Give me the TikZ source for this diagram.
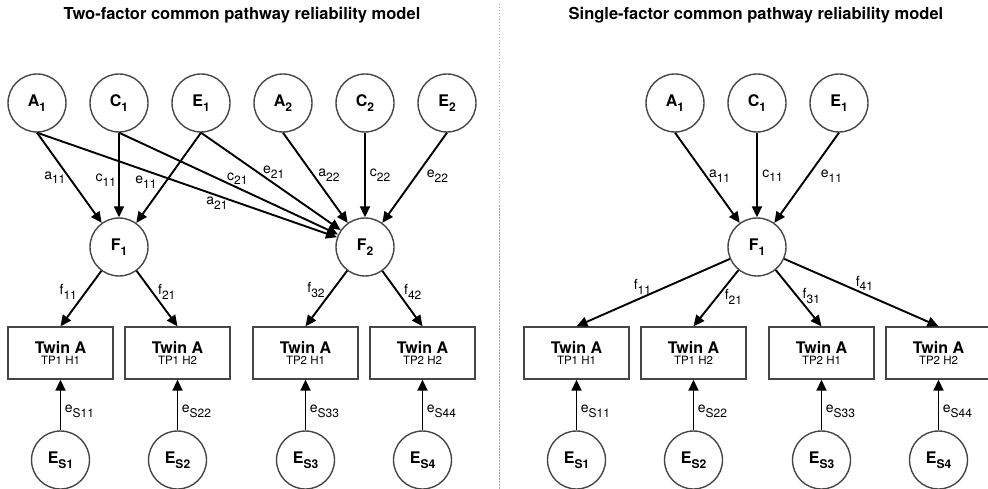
\documentclass[tikz,border=0pt]{standalone}
\usepackage{fontspec}
\setmainfont{TeX Gyre Heros}
\usetikzlibrary{arrows.meta, positioning}
\definecolor{lineg}{RGB}{70,70,70}
\definecolor{sepg}{RGB}{165,165,165}
\newcommand{\lsub}[1]{\raisebox{-4.5pt}{\fontsize{12}{12}\selectfont #1}}
\newcommand{\twin}[1]{{\fontsize{16}{17}\selectfont\bfseries Twin A}\\[-1.5pt]{\fontsize{11.5}{13}\selectfont #1}}

\begin{document}
\begin{tikzpicture}[x=1pt, y=-1pt,
    lat/.style={circle, draw=lineg, line width=1.4pt, minimum size=58pt,
      inner sep=0pt, font=\fontsize{16}{18}\selectfont\bfseries},
    box/.style={rectangle, draw=lineg, line width=1.4pt, minimum width=105pt,
      minimum height=52pt, inner sep=0pt, align=center},
    arr/.style={-{Triangle[length=11pt, width=10pt]}, black, line width=1.9pt},
    lbl/.style={font=\fontsize{14}{15}\selectfont, inner sep=2pt},
    ttl/.style={font=\fontsize{16.5}{18}\selectfont\bfseries}]
  \useasboundingbox (0,0) rectangle (988,489);
  \node[ttl] (t1) at (242,15) {Two-factor common pathway reliability model};
  \node[ttl] (t2) at (756,15) {Single-factor common pathway reliability model};
  \coordinate (divtop) at (499,4);
  \coordinate (divbot) at (499,489);
  \draw[sepg, line width=1pt, dash pattern=on 1.5pt off 1.5pt] (divtop) -- (divbot);
  \node[lat] (A1) at (37,103) {A\lsub{1}};
  \node[lat, right=22.6pt of A1] (C1) {C\lsub{1}};
  \node[lat, right=22.6pt of C1] (E1) {E\lsub{1}};
  \node[lat, right=22.6pt of E1] (A2) {A\lsub{2}};
  \node[lat, right=22.6pt of A2] (C2) {C\lsub{2}};
  \node[lat, right=22.6pt of C2] (E2) {E\lsub{2}};
  \node[lat, below=84.6pt of C1] (F1) {F\lsub{1}};
  \node[lat, below=84.6pt of C2] (F2) {F\lsub{2}};
  \node[box] (b1) at (60.5,353) {\twin{TP1 H1}};
  \node[box, right=10.6pt of b1] (b2) {\twin{TP1 H2}};
  \node[box, right=21.6pt of b2] (b3) {\twin{TP2 H1}};
  \node[box, right=10.6pt of b3] (b4) {\twin{TP2 H2}};
  \node[lat, below=50.6pt of b1] (es1) {E\lsub{S1}};
  \node[lat, below=50.6pt of b2] (es2) {E\lsub{S2}};
  \node[lat, below=50.6pt of b3] (es3) {E\lsub{S3}};
  \node[lat, below=50.6pt of b4] (es4) {E\lsub{S4}};
  \draw[arr] (A1.south) -- (F1) node[lbl, pos=.5, left=1pt] {a\lsub{11}};
  \draw[arr] (C1.south) -- (F1) node[lbl, pos=.56, left=0pt] {c\lsub{11}};
  \draw[arr] (E1.south) -- (F1) node[lbl, pos=.55, left=6pt] {e\lsub{11}};
  \draw[arr] (A1.south) -- (F2) node[lbl, pos=.6, below=-1pt] {a\lsub{21}};
  \draw[arr] (C1.south) -- (F2) node[lbl, pos=.54, above=0pt] {c\lsub{21}};
  \draw[arr] (E1.south) -- (F2) node[lbl, pos=.52, above=2pt] {e\lsub{21}};
  \draw[arr] (A2.south) -- (F2) node[lbl, pos=.47, right=2pt] {a\lsub{22}};
  \draw[arr] (C2.south) -- (F2) node[lbl, pos=.5, right=2pt] {c\lsub{22}};
  \draw[arr] (E2.south) -- (F2) node[lbl, pos=.48, right=8pt] {e\lsub{22}};
  \draw[arr] (F1) -- (b1.north) node[lbl, pos=.38, left=6pt] {f\lsub{11}};
  \draw[arr] (F1) -- (b2.north) node[lbl, pos=.38, right=3pt] {f\lsub{21}};
  \draw[arr] (F2) -- (b3.north) node[lbl, pos=.35, left=5pt] {f\lsub{32}};
  \draw[arr] (F2) -- (b4.north) node[lbl, pos=.38, right=3.5pt] {f\lsub{42}};
  \draw[arr] (es1.north) -- (b1.south) node[lbl, pos=.37, right=1.5pt] {e\lsub{S11}};
  \draw[arr] (es2.north) -- (b2.south) node[lbl, pos=.37, right=1.5pt] {e\lsub{S22}};
  \draw[arr] (es3.north) -- (b3.south) node[lbl, pos=.37, right=1.5pt] {e\lsub{S33}};
  \draw[arr] (es4.north) -- (b4.south) node[lbl, pos=.37, right=1.5pt] {e\lsub{S44}};
  \node[lat] (sA1) at (675,103) {A\lsub{1}};
  \node[lat, right=22.6pt of sA1] (sC1) {C\lsub{1}};
  \node[lat, right=22.6pt of sC1] (sE1) {E\lsub{1}};
  \node[lat, below=84.6pt of sC1] (sF1) {F\lsub{1}};
  \node[box] (sb1) at (576.5,353) {\twin{TP1 H1}};
  \node[box, right=10.6pt of sb1] (sb2) {\twin{TP1 H2}};
  \node[box, right=21.6pt of sb2] (sb3) {\twin{TP2 H1}};
  \node[box, right=10.6pt of sb3] (sb4) {\twin{TP2 H2}};
  \node[lat, below=50.6pt of sb1] (ses1) {E\lsub{S1}};
  \node[lat, below=50.6pt of sb2] (ses2) {E\lsub{S2}};
  \node[lat, below=50.6pt of sb3] (ses3) {E\lsub{S3}};
  \node[lat, below=50.6pt of sb4] (ses4) {E\lsub{S4}};
  \draw[arr] (sA1.south) -- (sF1) node[lbl, pos=.48, right=0pt] {a\lsub{11}};
  \draw[arr] (sC1.south) -- (sF1) node[lbl, pos=.51, right=2.5pt] {c\lsub{11}};
  \draw[arr] (sE1.south) -- (sF1) node[lbl, pos=.48, right=10pt] {e\lsub{11}};
  \draw[arr] (sF1) -- (sb1.north) node[lbl, pos=.57, above=0pt] {f\lsub{11}};
  \draw[arr] (sF1) -- (sb2.north) node[lbl, pos=.48, right=5pt] {f\lsub{21}};
  \draw[arr] (sF1) -- (sb3.north) node[lbl, pos=.46, right=3pt] {f\lsub{31}};
  \draw[arr] (sF1) -- (sb4.north) node[lbl, pos=.52, above=0pt] {f\lsub{41}};
  \draw[arr] (ses1.north) -- (sb1.south) node[lbl, pos=.37, right=1.5pt] {e\lsub{S11}};
  \draw[arr] (ses2.north) -- (sb2.south) node[lbl, pos=.37, right=1.5pt] {e\lsub{S22}};
  \draw[arr] (ses3.north) -- (sb3.south) node[lbl, pos=.37, right=1.5pt] {e\lsub{S33}};
  \draw[arr] (ses4.north) -- (sb4.south) node[lbl, pos=.37, right=1.5pt] {e\lsub{S44}};
\end{tikzpicture}
\end{document}
